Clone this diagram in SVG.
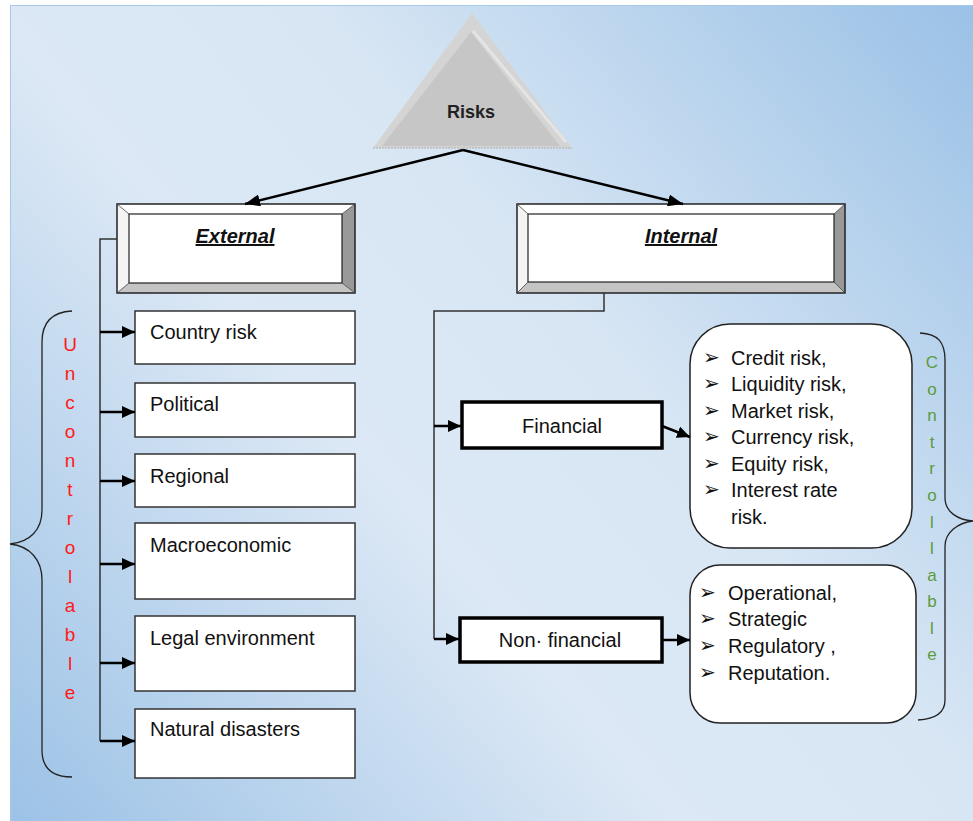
<svg xmlns="http://www.w3.org/2000/svg" width="973" height="821" viewBox="0 0 973 821">
<defs>
<linearGradient id="bg" gradientUnits="userSpaceOnUse" x1="973" y1="5" x2="10" y2="821">
<stop offset="0" stop-color="#9ac1e6"/>
<stop offset="0.4" stop-color="#d8e6f4"/>
<stop offset="0.6" stop-color="#dce8f5"/>
<stop offset="1" stop-color="#9cc2e6"/>
</linearGradient>
<marker id="ah" markerUnits="userSpaceOnUse" markerWidth="14" markerHeight="12" refX="13" refY="6" orient="auto">
<path d="M0,0 L13,6 L0,12 z" fill="#000"/>
</marker>
<marker id="ah2" markerUnits="userSpaceOnUse" markerWidth="16" markerHeight="12" refX="15" refY="6" orient="auto">
<path d="M0,0 L15,6 L0,12 z" fill="#000"/>
</marker>
</defs>
<style>
.t{font-family:"Liberation Sans",Arial,sans-serif;font-size:20px;fill:#111}
.hd{font-family:"Liberation Sans",Arial,sans-serif;font-size:20px;font-weight:bold;font-style:italic;fill:#111;text-decoration:underline}
.box{fill:#fff;stroke:#333;stroke-width:1.5}
.thick{fill:#fff;stroke:#000;stroke-width:3.5}
.rbox{fill:#fff;stroke:#222;stroke-width:1.5}
.bul{font-family:"DejaVu Sans",sans-serif;font-size:20px;fill:#111}
.red{font-family:"Liberation Sans",Arial,sans-serif;font-size:19px;fill:#ff1a1a;text-anchor:middle}
.grn{font-family:"Liberation Sans",Arial,sans-serif;font-size:17px;fill:#5b9b3c;text-anchor:middle}
.conn{fill:none;stroke:#333;stroke-width:1.5}
.arr{fill:none;stroke:#000;stroke-width:2.5;marker-end:url(#ah)}
.brace{fill:none;stroke:#222;stroke-width:1.3}
</style>
<rect x="0" y="0" width="973" height="821" fill="#fff"/>
<rect x="10" y="5" width="963" height="816" fill="url(#bg)"/>
<path d="M10.5 821 V5.5 H973" fill="none" stroke="#a8c8e8" stroke-width="1"/>

<g id="risks">
<polygon points="472,13 373,148 572,148" fill="#d4d4d4"/>
<polygon points="471,32 382,146 560,146" fill="#c6c6c6"/>
<line x1="473" y1="31" x2="566" y2="142" stroke="#e4e4e4" stroke-width="3"/>
<line x1="373" y1="148" x2="572" y2="148" stroke="#b0b0b0" stroke-width="1" stroke-dasharray="2,1"/>
<text x="471" y="118" text-anchor="middle" font-family="Liberation Sans,Arial,sans-serif" font-size="18" font-weight="bold" fill="#222">Risks</text>
</g>

<g id="external">
<rect x="117" y="204" width="238" height="89" fill="#fff"/>
<polygon points="117,204 355,204 342,214 129,214" fill="#fff"/>
<polygon points="117,204 129,214 129,283 117,293" fill="#f4f4f4"/>
<polygon points="355,204 355,293 342,283 342,214" fill="#999"/>
<polygon points="117,293 129,283 342,283 355,293" fill="#c4c4c4"/>
<rect x="129" y="214" width="213" height="69" fill="#fff" stroke="#222" stroke-width="1.2"/>
<rect x="117" y="204" width="238" height="89" fill="none" stroke="#222" stroke-width="1.5"/>
<path d="M117 204 L129 214 M355 204 L342 214 M117 293 L129 283 M355 293 L342 283" stroke="#444" stroke-width="0.8"/>
<text class="hd" x="235" y="243" text-anchor="middle">External</text>
</g>

<g id="internal">
<rect x="517" y="204" width="328" height="89" fill="#fff"/>
<polygon points="517,204 845,204 834,214 528,214" fill="#fff"/>
<polygon points="517,204 528,214 528,282 517,293" fill="#f4f4f4"/>
<polygon points="845,204 845,293 834,282 834,214" fill="#999"/>
<polygon points="517,293 528,282 834,282 845,293" fill="#c4c4c4"/>
<rect x="528" y="214" width="306" height="68" fill="#fff" stroke="#222" stroke-width="1.2"/>
<rect x="517" y="204" width="328" height="89" fill="none" stroke="#222" stroke-width="1.5"/>
<path d="M517 204 L528 214 M845 204 L834 214 M517 293 L528 282 M845 293 L834 282" stroke="#444" stroke-width="0.8"/>
<text class="hd" x="681" y="243" text-anchor="middle">Internal</text>
</g>

<g id="country-risk"><rect class="box" x="135" y="311" width="220" height="53"/><text class="t" x="150" y="339">Country risk</text></g>
<g id="political"><rect class="box" x="135" y="383" width="220" height="54"/><text class="t" x="150" y="411">Political</text></g>
<g id="regional"><rect class="box" x="135" y="454" width="220" height="53"/><text class="t" x="150" y="483">Regional</text></g>
<g id="macroeconomic"><rect class="box" x="135" y="523" width="220" height="76"/><text class="t" x="150" y="552">Macroeconomic</text></g>
<g id="legal"><rect class="box" x="135" y="616" width="220" height="75"/><text class="t" x="150" y="645">Legal environment</text></g>
<g id="natural"><rect class="box" x="135" y="709" width="220" height="69"/><text class="t" x="150" y="736">Natural disasters</text></g>

<g id="financial"><rect class="thick" x="462" y="402" width="200" height="46"/><text class="t" x="562" y="433" text-anchor="middle">Financial</text></g>
<g id="non-financial"><rect class="thick" x="460" y="618" width="202" height="44"/><text class="t" x="560" y="647" text-anchor="middle">Non· financial</text></g>

<g id="financial-list">
<rect class="rbox" x="690" y="324" width="222" height="224" rx="40" ry="40"/>
<text class="bul" x="703" y="364">➢</text><text class="t" x="731" y="365">Credit risk,</text>
<text class="bul" x="703" y="390">➢</text><text class="t" x="731" y="391">Liquidity risk,</text>
<text class="bul" x="703" y="417">➢</text><text class="t" x="731" y="418">Market risk,</text>
<text class="bul" x="703" y="443">➢</text><text class="t" x="731" y="444">Currency risk,</text>
<text class="bul" x="703" y="470">➢</text><text class="t" x="731" y="471">Equity risk,</text>
<text class="bul" x="703" y="496">➢</text><text class="t" x="731" y="497">Interest rate</text>
<text class="t" x="731" y="524">risk.</text>
</g>

<g id="non-financial-list">
<rect class="rbox" x="690" y="565" width="226" height="158" rx="30" ry="30"/>
<text class="bul" x="699" y="599">➢</text><text class="t" x="728" y="600">Operational,</text>
<text class="bul" x="699" y="625">➢</text><text class="t" x="728" y="626">Strategic</text>
<text class="bul" x="699" y="652">➢</text><text class="t" x="728" y="653">Regulatory ,</text>
<text class="bul" x="699" y="679">➢</text><text class="t" x="728" y="680">Reputation.</text>
</g>

<g id="uncontrollable">
<path class="brace" d="M72 311 C52 312 42 322 42 342 L42 510 C42 530 30 542 10 544 C30 546 42 560 42 580 L42 750 C42 768 52 777 72 777"/>
<text class="red" x="70" y="351">U</text>
<text class="red" x="70" y="380">n</text>
<text class="red" x="70" y="409">c</text>
<text class="red" x="70" y="438">o</text>
<text class="red" x="70" y="467">n</text>
<text class="red" x="70" y="496">t</text>
<text class="red" x="70" y="525">r</text>
<text class="red" x="70" y="554">o</text>
<text class="red" x="70" y="583">l</text>
<text class="red" x="70" y="612">a</text>
<text class="red" x="70" y="641">b</text>
<text class="red" x="70" y="670">l</text>
<text class="red" x="70" y="699">e</text>
</g>

<g id="controllable">
<path class="brace" d="M920 333 C938 334 945 342 945 360 L945 498 C945 512 958 520 973 521 C958 523 945 532 945 546 L945 700 C945 712 936 719 918 720"/>
<text class="grn" x="932" y="368">C</text>
<text class="grn" x="932" y="395">o</text>
<text class="grn" x="932" y="421">n</text>
<text class="grn" x="932" y="448">t</text>
<text class="grn" x="932" y="474">r</text>
<text class="grn" x="932" y="501">o</text>
<text class="grn" x="932" y="528">l</text>
<text class="grn" x="932" y="554">l</text>
<text class="grn" x="932" y="581">a</text>
<text class="grn" x="932" y="607">b</text>
<text class="grn" x="932" y="634">l</text>
<text class="grn" x="932" y="660">e</text>
</g>

<g id="connectors">
<path d="M463 150 L245 204" fill="none" stroke="#000" stroke-width="2.5" marker-end="url(#ah2)"/>
<path d="M463 150 L683 204" fill="none" stroke="#000" stroke-width="2.5" marker-end="url(#ah2)"/>
<path class="conn" d="M117 239 H100 V741"/>
<line class="arr" x1="100" y1="332" x2="135" y2="332"/>
<line class="arr" x1="100" y1="412" x2="135" y2="412"/>
<line class="arr" x1="100" y1="481" x2="135" y2="481"/>
<line class="arr" x1="100" y1="564" x2="135" y2="564"/>
<line class="arr" x1="100" y1="663" x2="135" y2="663"/>
<line class="arr" x1="100" y1="741" x2="135" y2="741"/>
<path class="conn" d="M604 293 V311 H434 V639"/>
<line class="arr" x1="434" y1="426" x2="461" y2="426"/>
<line class="arr" x1="434" y1="639" x2="459" y2="639"/>
<line class="arr" x1="662" y1="426" x2="690" y2="437"/>
<line class="arr" x1="662" y1="640" x2="690" y2="640"/>
</g>
</svg>
